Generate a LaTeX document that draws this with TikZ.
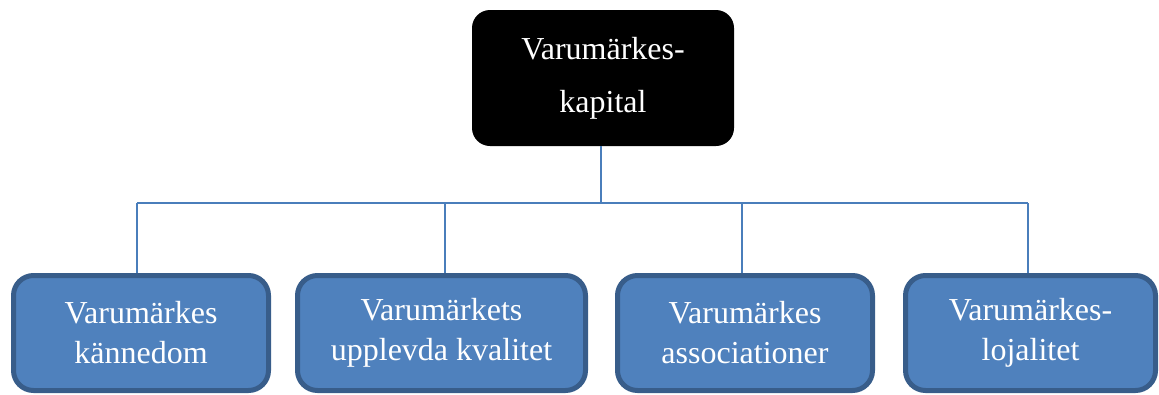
\documentclass[tikz,border=0pt]{standalone}
\usepackage{fontspec}
\setmainfont{Liberation Serif}
\definecolor{boxfill}{HTML}{4F81BD}
\definecolor{boxborder}{HTML}{385D8A}
\definecolor{linkcol}{HTML}{4A7EBB}
\begin{document}
\begin{tikzpicture}[x=1pt,y=-1pt,
  topbox/.style={fill=black,draw=none,rounded corners=18pt,text=white,align=center,
    minimum width=262pt,minimum height=136pt,inner sep=0pt,
    font=\fontsize{32}{53}\selectfont},
  leafbox/.style={fill=boxfill,draw=boxborder,line width=5pt,rounded corners=20pt,text=white,
    align=center,minimum height=115pt,inner sep=0pt,
    font=\fontsize{32}{40}\selectfont},
  link/.style={draw=linkcol,line width=1.5pt}]
\useasboundingbox (0,0) rectangle (1159,394);
\node[topbox] (top) at (603,78) {Varumärkes-\\kapital};
\node[leafbox,minimum width=255pt] (b1) at (141,333) {Varumärkes\\kännedom};
\node[leafbox,minimum width=288pt] (b2) at (441.5,333) {Varumärkets\\upplevda kvalitet};
\node[leafbox,minimum width=255pt] (b3) at (745,333) {Varumärkes\\associationer};
\node[leafbox,minimum width=250pt] (b4) at (1030.5,333) {Varumärkes-\\lojalitet};
\coordinate (j0) at (601,203);
\coordinate (j1) at (137,203);
\coordinate (j2) at (445,203);
\coordinate (j3) at (742,203);
\coordinate (j4) at (1028,203);
\draw[link] (j0 |- top.south) -- (j0);
\draw[link] (j1) -- (j4);
\draw[link] (j1) -- (j1 |- b1.north);
\draw[link] (j2) -- (j2 |- b2.north);
\draw[link] (j3) -- (j3 |- b3.north);
\draw[link] (j4) -- (j4 |- b4.north);
\end{tikzpicture}
\end{document}
